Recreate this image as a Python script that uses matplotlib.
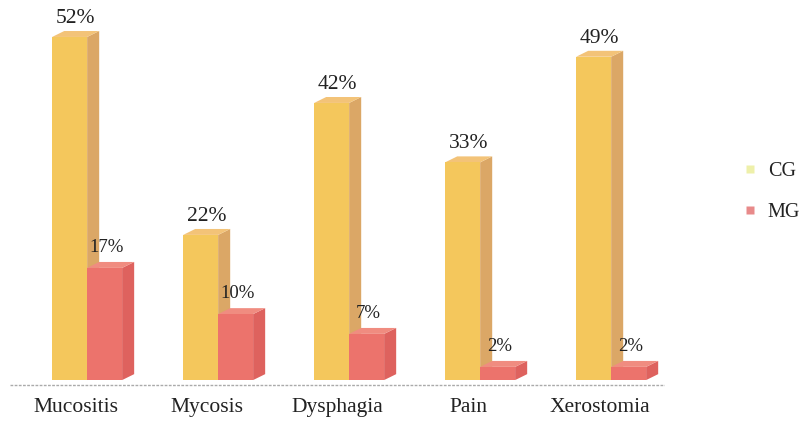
import matplotlib
matplotlib.use("Agg")
import matplotlib.pyplot as plt
from matplotlib.patches import Polygon
from matplotlib.lines import Line2D

categories = ["Mucositis", "Mycosis", "Dysphagia", "Pain", "Xerostomia"]
cg_values = [52, 22, 42, 33, 49]
mg_values = [17, 10, 7, 2, 2]
cg_labels = ["52%", "22%", "42%", "33%", "49%"]
mg_labels = ["17%", "10%", "7%", "2%", "2%"]

plt.rcParams['font.family'] = ['Liberation Serif', 'DejaVu Serif']

fig = plt.figure(figsize=(8.04, 4.25), dpi=100)
ax = fig.add_axes([0.0124, 0.0894, 0.8147, 0.9106])
ax.set_xlim(-0.5, 4.5)
ax.set_ylim(-1.05, 57.6)

W = 0.267      # bar width (x units)
DX = 0.092     # depth offset x
DY = 0.9       # depth offset y (percent units)

series = [
    (cg_values, -0.178, dict(front="#F4C75C", side="#DBA766", top="#F3C378")),
    (mg_values, 0.089, dict(front="#EC736C", side="#DE625E", top="#F08C80")),
]

for i in range(len(categories)):
    for vals, off, col in series:
        v = vals[i]
        x0 = i + off
        x1 = x0 + W
        # side face
        ax.add_patch(Polygon([(x1, 0), (x1 + DX, DY), (x1 + DX, v + DY), (x1, v)],
                             closed=True, facecolor=col["side"], edgecolor="none", zorder=2))
        # top face
        ax.add_patch(Polygon([(x0, v), (x0 + DX, v + DY), (x1 + DX, v + DY), (x1, v)],
                             closed=True, facecolor=col["top"], edgecolor="none", zorder=2))
        # front face
        ax.bar(x0, v, width=W, align="edge", color=col["front"], edgecolor="none", zorder=3)

# value labels
for i in range(len(categories)):
    ax.text(i - 0.178 + W / 2 + DX / 2, cg_values[i] + DY + 0.5, cg_labels[i],
            ha="center", va="bottom", fontsize=15.5, color="#222222", zorder=5)
    ax.text(i + 0.089 + W / 2 + DX / 2 - 0.03, mg_values[i] + DY + 0.9, mg_labels[i],
            ha="center", va="bottom", fontsize=13.5, color="#222222", zorder=5)

# baseline
ax.axhline(-0.75, xmin=0.0, xmax=1.0, color="#AAAAAA", lw=1.0, ls=(0, (2, 1)), zorder=1)

ax.set_xticks(range(len(categories)))
ax.set_xticklabels(categories, fontsize=15.5, color="#222222")
ax.tick_params(axis="x", length=0, pad=8)
ax.set_yticks([])
for s in ax.spines.values():
    s.set_visible(False)

handles = [
    Line2D([0], [0], marker="s", ls="none", markersize=6, markerfacecolor="#EEF0AA",
           markeredgecolor="none", label="CG"),
    Line2D([0], [0], marker="s", ls="none", markersize=6, markerfacecolor="#E88A8A",
           markeredgecolor="none", label="MG"),
]
fig.legend(handles=handles, loc="center left", bbox_to_anchor=(0.9, 0.548),
           frameon=False, fontsize=14.5, handlelength=0.8, handletextpad=0.5,
           labelspacing=1.1, labelcolor="#222222")

fig.savefig("out.png", dpi=100)
